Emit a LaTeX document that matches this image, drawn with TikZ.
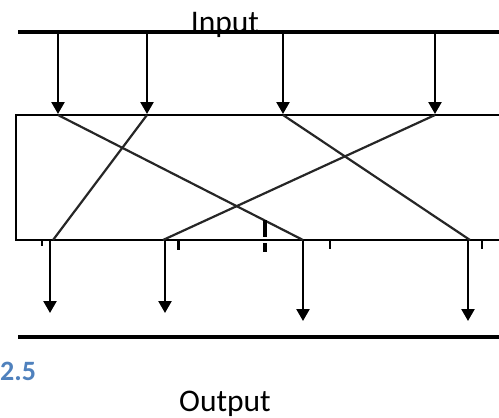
\documentclass[tikz,border=0pt]{standalone}
\usepackage{fontspec}
\setmainfont{Carlito}
\usetikzlibrary{arrows.meta}
\definecolor{capblue}{HTML}{4F81BD}
\tikzset{
  rail/.style={line width=3.5pt, black},
  boxline/.style={line width=2.6pt, black},
  feed/.style={line width=2.4pt, black, -{Triangle[width=13pt,length=12pt]}},
  cross/.style={line width=2.2pt, black!85},
  tick/.style={line width=2.5pt, black},
  lbl/.style={font=\fontsize{31.5}{34}\selectfont, inner sep=0pt, anchor=base}
}
\begin{document}
\begin{tikzpicture}[x=1pt,y=-1pt]
\useasboundingbox (0,0) rectangle (499,418);
% rails
\coordinate (tl) at (18,32);  \coordinate (tr) at (499,32);
\coordinate (bl) at (18,337); \coordinate (br) at (499,337);
\draw[rail] (tl) -- (tr);
\draw[rail] (bl) -- (br);
% box
\coordinate (btl) at (499,115); \coordinate (bbl) at (499,240);
\draw[boxline] (btl) -- (16,115) -- (16,240) -- (bbl);
% input taps
\foreach \n/\x in {a/58,b/147,c/283,d/435}{
  \coordinate (i\n) at (\x,32);
  \coordinate (t\n) at (\x,115);
  \draw[feed] (i\n) -- (\x,114);
}
% output taps
\foreach \n/\x/\y in {a/50/313,b/165/313,c/303/321,d/468/321}{
  \coordinate (o\n) at (\x,240);
  \coordinate (e\n) at (\x,\y);
  \draw[feed] (o\n) -- (e\n);
}
% crossing lines
\coordinate (xa) at (53,240);
\coordinate (xb) at (163,240);
\coordinate (xd) at (470,240);
\draw[cross] (ta) -- (oc);
\draw[cross] (tb) -- (xa);
\draw[cross] (tc) -- (xd);
\draw[cross] (td) -- (xb);
% small marks
\draw[tick, line width=2.5pt] (42,240) -- (42,246);
\draw[tick, line width=3pt] (178,240) -- (178,250);
\draw[tick, line width=4.5pt] (265,220) -- (265,237);
\draw[tick, line width=4.5pt] (265,243) -- (265,252);
\draw[tick, line width=2.5pt] (330,240) -- (330,249);
\draw[tick, line width=2.5pt] (482,240) -- (482,249);
% labels
\node[lbl] (inp) at (225,32) {Input};
\node[lbl] (outp) at (225,411) {Output};
\node[font=\fontsize{28}{30}\selectfont\bfseries, text=capblue, inner sep=0pt, anchor=base west] (fig) at (0,380) {2.5};
\end{tikzpicture}
\end{document}
